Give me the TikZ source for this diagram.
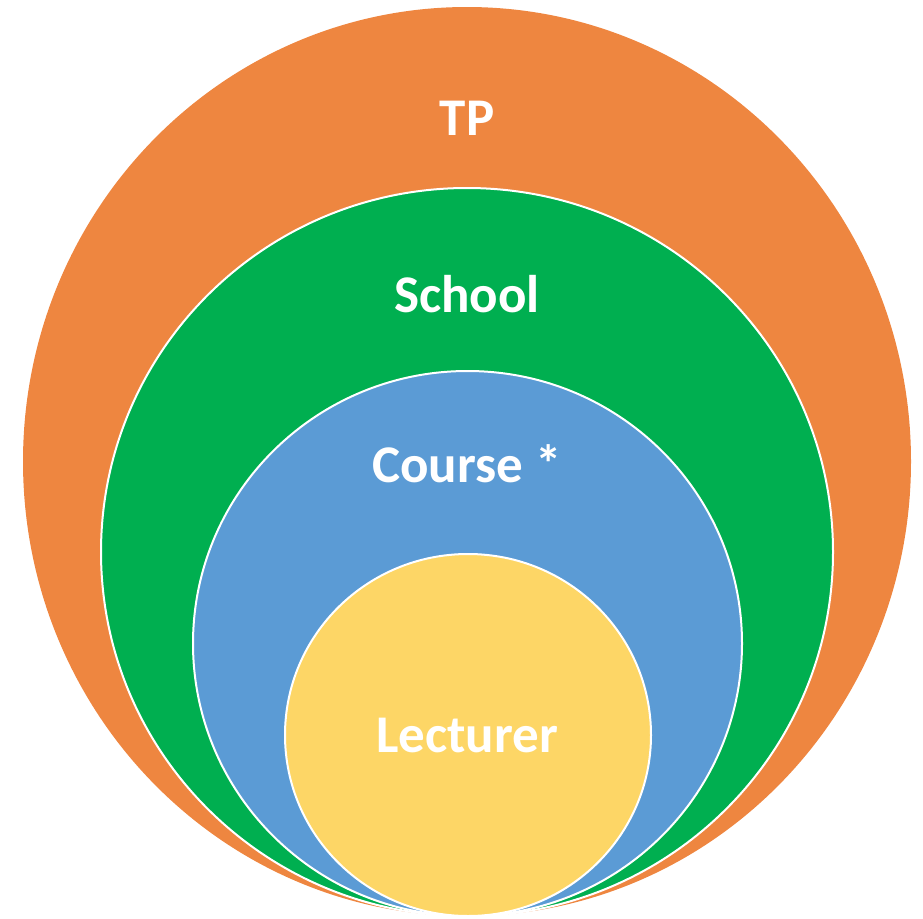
\documentclass[tikz,border=0pt]{standalone}
\usepackage{fontspec}
\setmainfont{Carlito}
\definecolor{cOrange}{HTML}{EE8640}
\definecolor{cGreen}{HTML}{00AF50}
\definecolor{cBlue}{HTML}{5B9BD5}
\definecolor{cYellow}{HTML}{FDD666}
\tikzset{
  ring/.style={draw=white, line width=2pt},
  lbl/.style={text=white, font=\fontsize{53}{62}\selectfont\bfseries, anchor=base, inner sep=0pt}
}
\begin{document}
\begin{tikzpicture}[x=1pt,y=-1pt]
\useasboundingbox (0,0) rectangle (923,918);
\fill[cOrange] (467,461.5) ellipse [x radius=444, y radius=454.5];
\filldraw[ring, fill=cGreen] (467,552) ellipse [x radius=366, y radius=364];
\filldraw[ring, fill=cBlue] (467.5,643.5) ellipse [x radius=274.5, y radius=272.5];
\filldraw[ring, fill=cYellow] (468,735) ellipse [x radius=183, y radius=181];
\node[lbl] (tp) at (467,135) {TP};
\node[lbl] (school) at (467,312) {School};
\node[lbl] (course) at (467,482) {Course *};
\node[lbl] (lect) at (467,752) {Lecturer};
\end{tikzpicture}
\end{document}
